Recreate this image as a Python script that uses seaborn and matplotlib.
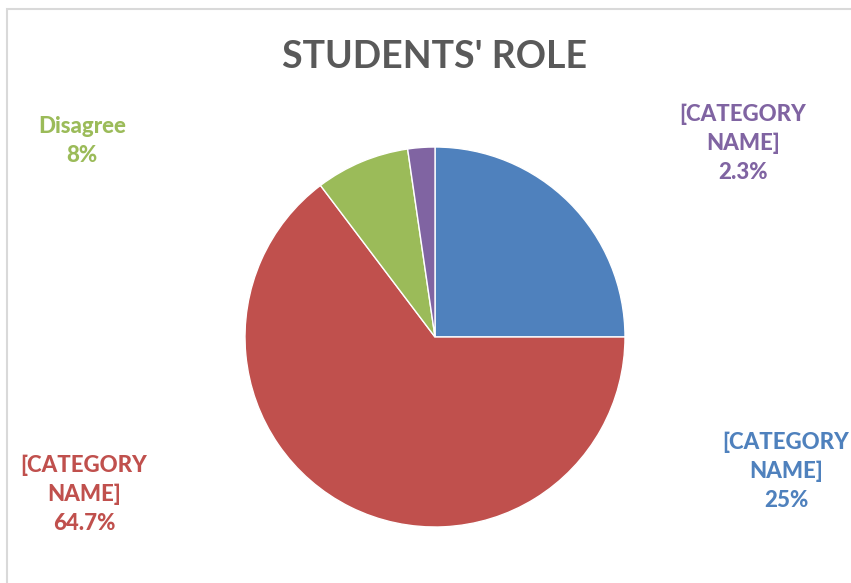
import matplotlib
matplotlib.use("Agg")
import matplotlib.pyplot as plt
import matplotlib.patches as mpatches
import seaborn as sns

categories = ["[CATEGORY NAME]", "[CATEGORY NAME]", "Disagree", "[CATEGORY NAME]"]
values = [25.0, 64.7, 8.0, 2.3]
value_labels = ["25%", "64.7%", "8%", "2.3%"]
colors = ["#4F81BD", "#C0504D", "#9BBB59", "#8064A2"]
title = "STUDENTS' ROLE"

sns.set_theme(style="white")
plt.rcParams['font.family'] = ['Lato', 'DejaVu Sans']

W, H = 851, 583
fig = plt.figure(figsize=(W / 100, H / 100), dpi=100)
fig.patch.set_facecolor("white")

# outer chart border (partly cut off at right/bottom)
fig.add_artist(mpatches.Rectangle((7 / W, -0.05), 2.0, 1 - 9 / H + 0.05,
                                  transform=fig.transFigure, fill=False,
                                  edgecolor="#D9D9D9", linewidth=1.5))

cx, cy, r = 435, 337, 190
ax = fig.add_axes([(cx - r) / W, (H - cy - r) / H, 2 * r / W, 2 * r / H])
wedges, _ = ax.pie(values, colors=colors, startangle=90, counterclock=False,
                   wedgeprops=dict(edgecolor="white", linewidth=1))
ax.set_xlim(-1, 1)
ax.set_ylim(-1, 1)
ax.set_aspect("equal")
ax.axis("off")

fig.text(cx / W, 1 - 57 / H, title, ha="center", va="center",
         fontsize=27, fontweight="bold", color="#595959")

# label positions (pixel centers)
pos = [(786, 471), (84, 494), (82, 141), (743, 143)]
for cat, lab, col, (px, py) in zip(categories, value_labels, colors, pos):
    txt = cat.replace(" NAME", "\nNAME") + "\n" + lab
    fig.text(px / W, 1 - py / H, txt, ha="center", va="center",
             fontsize=16, fontweight="black", color=col, linespacing=1.45)

fig.savefig("out.png", dpi=100)
